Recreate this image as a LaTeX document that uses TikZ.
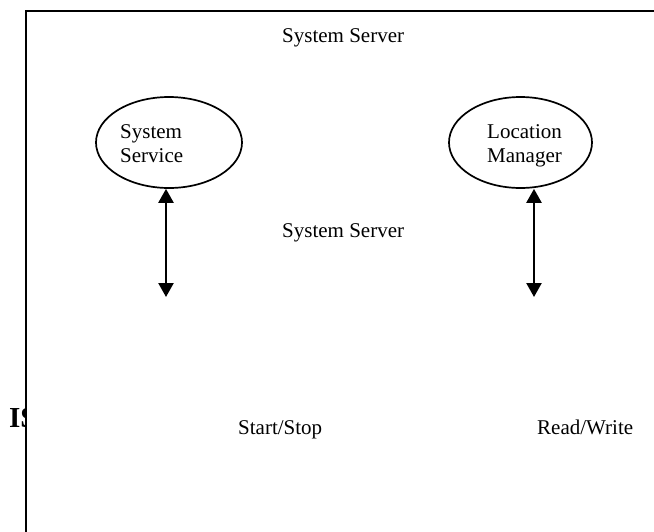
\documentclass[tikz,border=0pt]{standalone}
\usepackage{fontspec}
\setmainfont{Liberation Serif}
\usetikzlibrary{shapes.geometric,arrows.meta}
\begin{document}
\begin{tikzpicture}[x=1pt,y=-1pt,
  lbl/.style={anchor=base west,inner sep=0pt,font=\fontsize{21}{24}\selectfont},
  blob/.style={draw,ellipse,line width=1.7pt,inner sep=0pt},
  link/.style={line width=2.4pt,{Triangle[width=15pt,length=14pt]}-{Triangle[width=15pt,length=14pt]}}]
\useasboundingbox (0,0) rectangle (654,531);
\clip (0,0) rectangle (654,531);
% label partly hidden behind the frame
\node[anchor=base west,inner sep=0pt,font=\bfseries\fontsize{29}{32}\selectfont] (is) at (9,427) {IS};
% frame (white, drawn over the stray label)
\filldraw[fill=white,line width=2.6pt] (26,11) rectangle (700,600);
% titles
\node[lbl] (title) at (282,42) {System Server};
\node[lbl] (mid) at (282,237) {System Server};
% components
\node[blob,minimum width=146pt,minimum height=91pt] (svc) at (169,142.5) {};
\node[blob,minimum width=143pt,minimum height=91pt] (loc) at (520.5,142.5) {};
\node[lbl,align=left] (svct) at (120,162) {System\\Service};
\node[lbl,align=left] (loct) at (487,162) {Location\\Manager};
% links
\coordinate (svcend) at (166,297);
\coordinate (locend) at (534,297);
\draw[link] (svc.south -| svcend) -- (svcend);
\draw[link] (loc.south -| locend) -- (locend);
% bottom labels
\node[lbl] (ss) at (238,434) {Start/Stop};
\node[lbl] (rw) at (537,434) {Read/Write};
\end{tikzpicture}
\end{document}
